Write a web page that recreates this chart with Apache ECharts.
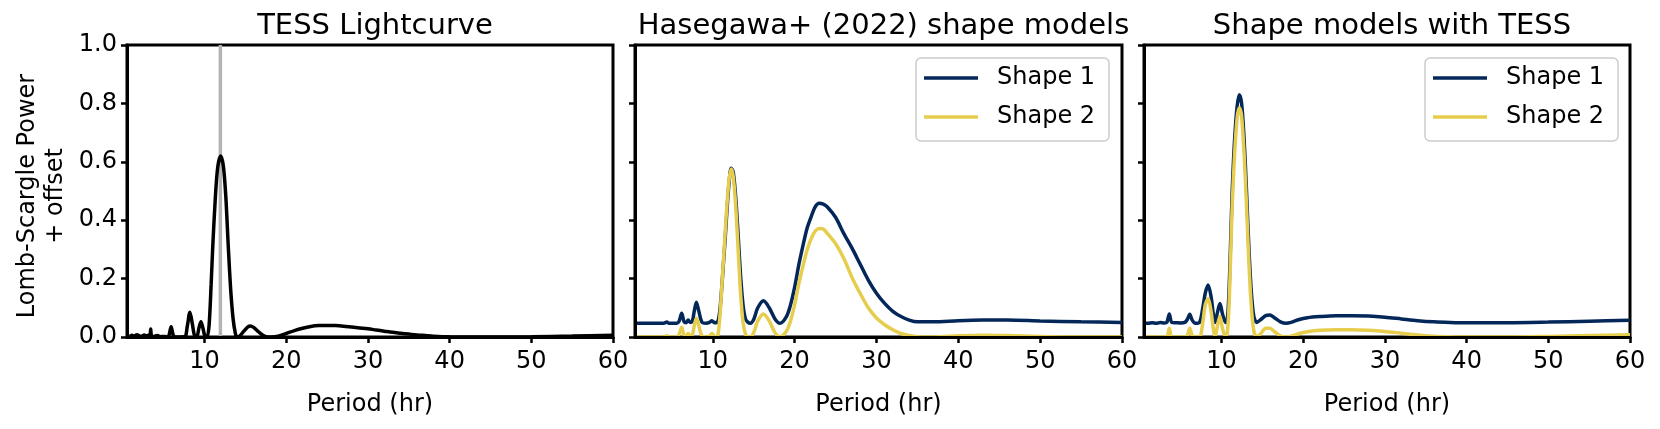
<!DOCTYPE html>
<html><head><meta charset="utf-8">
<script src="https://cdn.jsdelivr.net/npm/echarts@6/dist/echarts.min.js"></script>
<style>html,body{margin:0;padding:0;background:#fff}#c{width:1660px;height:429px}</style>
</head><body><div id="c"></div><script>
// ---- data ----
const titles = ['TESS Lightcurve', 'Hasegawa+ (2022) shape models', 'Shape models with TESS'];
const seriesNames = ['Shape 1', 'Shape 2'];
const xTicks = [10, 20, 30, 40, 50, 60];
const yTicks = [0, 0.2, 0.4, 0.6, 0.8, 1.0];
const tessRotPeriod = 11.93;

// Panel 1: TESS lightcurve periodogram
const tessX = [0.5,0.8,1.1,1.4,1.7,2.0,2.3,2.6,2.9,3.1,
  3.3,3.4,3.5,3.8,4.2,4.6,5.0,5.3,5.6,5.9,
  6.2,6.6,7.0,7.3,7.6,7.9,8.2,8.5,8.8,9.05,
  9.3,9.55,9.8,10.05,10.3,10.55,10.8,11.0,11.3,11.6,
  11.97,12.3,12.6,12.9,13.2,13.5,13.75,13.95,14.3,14.8,
  15.3,15.6,16.0,16.6,17.2,17.8,18.2,19,20,21,
  22,23,24,25,26,27,28,29,30,31,
  32,33,34,35,36,37,38,40,45,50,
  55,60];
const tessY = [0.004,0.002,0.006,0.003,0.008,0.004,0.002,0.007,0.003,0.006,
  0.004,0.027,0.004,0.002,0.005,0.001,0.002,0.001,0.003,0.035,
  0.003,0,0,0.001,0,0.04,0.085,0.045,0.003,0.002,
  0.03,0.052,0.03,0.002,0,0.04,0.18,0.31,0.47,0.58,
  0.62,0.585,0.48,0.31,0.16,0.06,0.015,0,0.003,0.02,
  0.035,0.038,0.033,0.018,0.005,0,0,0.003,0.012,0.022,
  0.03,0.036,0.039,0.0395,0.039,0.037,0.034,0.031,0.028,0.024,
  0.02,0.016,0.013,0.01,0.007,0.005,0.003,0.001,0,0.001,
  0.003,0.006];

// Panel 2: Hasegawa+ (2022) shape models
const haseX = [0.5,2,4,4.4,4.6,5.6,5.9,6.2,6.5,6.75,
  7.0,7.25,7.5,7.75,8.0,8.3,8.7,9.2,9.6,9.9,
  10.2,10.5,10.7,10.9,11.1,11.3,11.5,11.75,12.0,12.25,
  12.5,12.8,13.1,13.4,13.7,14.0,14.3,14.6,15.0,15.5,
  16.2,16.9,17.6,18.2,19,19.5,20,20.5,21,21.5,
  22,22.5,23,23.5,24,25,26,27,28,29,
  30,31,32,33,34,35,37,40,43,46,
  50,55,60];
const haseShape1 = [0.047,0.047,0.047,0.051,0.047,0.047,0.055,0.081,0.052,0.049,
  0.058,0.05,0.053,0.09,0.119,0.088,0.05,0.047,0.05,0.056,
  0.049,0.05,0.06,0.1,0.17,0.25,0.33,0.44,0.53,0.578,
  0.565,0.48,0.35,0.21,0.11,0.062,0.05,0.047,0.06,0.1,
  0.124,0.1,0.062,0.047,0.07,0.11,0.17,0.245,0.31,0.37,
  0.41,0.445,0.458,0.455,0.445,0.41,0.355,0.305,0.25,0.195,
  0.15,0.115,0.088,0.07,0.058,0.052,0.052,0.056,0.058,0.058,
  0.055,0.052,0.05];
const haseShape2 = [0,0,0,0.004,0,0,0.01,0.033,0.005,0.002,
  0.012,0.002,0.006,0.04,0.064,0.038,0.003,0,0.003,0.012,
  0.002,0,0.02,0.08,0.17,0.26,0.35,0.46,0.54,0.575,
  0.55,0.45,0.3,0.15,0.05,0.01,0,0,0.015,0.055,
  0.079,0.055,0.015,0,0.02,0.055,0.11,0.18,0.24,0.295,
  0.335,0.362,0.372,0.37,0.355,0.32,0.27,0.205,0.15,0.1,
  0.065,0.042,0.025,0.012,0.005,0.001,0,0.004,0.006,0.005,
  0.002,0,0];

// Panel 3: shape models with TESS
const comboX = [0.5,1,1.5,2,2.5,3,3.3,3.6,3.9,4.5,
  5,5.5,5.8,6.1,6.4,6.8,7.3,7.7,8.0,8.35,
  8.7,9.0,9.2,9.5,9.8,10.1,10.5,10.7,10.9,11.1,
  11.3,11.6,11.9,12.17,12.45,12.75,13.05,13.35,13.65,13.95,
  14.3,14.8,15.4,15.9,16.5,17.2,17.9,18.5,19.5,20.5,
  22,24,26,28,30,32,34,36,38,40,
  45,50,55,60];
const comboShape1 = [0.047,0.047,0.049,0.047,0.05,0.048,0.05,0.079,0.05,0.049,
  0.048,0.05,0.06,0.078,0.058,0.047,0.05,0.1,0.15,0.178,
  0.14,0.075,0.05,0.085,0.115,0.08,0.05,0.06,0.15,0.32,
  0.5,0.68,0.79,0.83,0.8,0.68,0.5,0.3,0.15,0.07,
  0.05,0.06,0.073,0.075,0.065,0.052,0.047,0.05,0.06,0.066,
  0.07,0.073,0.073,0.072,0.068,0.062,0.056,0.052,0.05,0.049,
  0.049,0.051,0.054,0.057];
const comboShape2 = [0,0,0,0,0,0,0,0.03,0,0,
  0,0,0.005,0.03,0.005,0,0,0.05,0.11,0.132,
  0.09,0.025,0,0.04,0.07,0.03,0,0.015,0.1,0.27,
  0.45,0.63,0.75,0.785,0.755,0.63,0.45,0.25,0.1,0.02,
  0,0.012,0.03,0.03,0.018,0.004,0,0.003,0.012,0.018,
  0.023,0.025,0.025,0.023,0.019,0.013,0.007,0.003,0.001,0,
  0,0.002,0.005,0.008];

// ---- chart ----
const FONT = 'DejaVu Sans';
const NAVY = '#04275a';
const YELLOW = '#e6cd4e';
const LW = 3.5;
const zip = (xs, ys) => xs.map((x, i) => [x, ys[i]]);

const gridBoxes = [
  {left: 127, top: 45, width: 486, height: 292},
  {left: 635, top: 45, width: 487, height: 292},
  {left: 1144, top: 45, width: 486, height: 292}
];

function xAx(i) {
  return {
    type: 'value', gridIndex: i, min: 0.5, max: 60, z: 5,
    axisLine: {show: true, onZero: false, lineStyle: {color: '#000', width: 3}},
    axisTick: {show: true, length: 6, customValues: xTicks, lineStyle: {color: '#000', width: 2.5}},
    axisLabel: {show: true, customValues: xTicks, color: '#000', fontFamily: FONT, fontSize: 24, margin: 13},
    splitLine: {show: false},
    name: 'Period (hr)', nameLocation: 'middle', nameGap: 56,
    nameTextStyle: {color: '#000', fontFamily: FONT, fontSize: 24}
  };
}
function yAx(i) {
  const o = {
    type: 'value', gridIndex: i, min: 0, max: 1, interval: 0.2, z: 5,
    axisLine: {show: true, onZero: false, lineStyle: {color: '#000', width: 3}},
    axisTick: {show: true, length: 6, lineStyle: {color: '#000', width: 2.5}},
    axisLabel: {show: i === 0, color: '#000', fontFamily: FONT, fontSize: 24, margin: 10,
      formatter: v => v.toFixed(1)},
    splitLine: {show: false}
  };
  if (i === 0) {
    o.name = 'Lomb-Scargle Power\n+ offset';
    o.nameLocation = 'middle';
    o.nameRotate = 90;
    o.nameGap = 57;
    o.nameTextStyle = {color: '#000', fontFamily: FONT, fontSize: 24, lineHeight: 28, align: 'center',
      padding: [0, 10, 0, 0]};
  }
  return o;
}
function lineSeries(name, xi, xs, ys, color, z) {
  return {
    type: 'line', name: name, xAxisIndex: xi, yAxisIndex: xi,
    data: zip(xs, ys), showSymbol: false, symbol: 'none', smooth: 0.3,
    lineStyle: {color: color, width: LW}, itemStyle: {color: color}, z: z,
    emphasis: {disabled: true}
  };
}
function legendAt(left) {
  return {
    data: seriesNames, orient: 'vertical', left: left, top: 58,
    padding: [8, 14, 12, 8], itemGap: 15, itemWidth: 54, itemHeight: 3.5, icon: 'rect',
    borderColor: '#cccccc', borderWidth: 1.5, borderRadius: 5, backgroundColor: 'rgba(255,255,255,0.85)',
    textStyle: {color: '#000', fontFamily: FONT, fontSize: 24, padding: [0, 0, 0, 14]},
    selectedMode: false
  };
}

const option = {
  animation: false,
  backgroundColor: '#fff',
  title: titles.map((t, i) => ({
    text: t, left: gridBoxes[i].left + gridBoxes[i].width / 2, top: 7, textAlign: 'center',
    textStyle: {color: '#000', fontFamily: FONT, fontSize: 29, fontWeight: 'normal'}
  })),
  grid: gridBoxes.map(g => Object.assign({show: true, borderColor: '#000', borderWidth: 3, backgroundColor: 'transparent'}, g)),
  xAxis: [0, 1, 2].map(xAx),
  yAxis: [0, 1, 2].map(yAx),
  legend: [legendAt(916), legendAt(1425)],
  series: [
    {type: 'line', name: 'rotation period', xAxisIndex: 0, yAxisIndex: 0,
      data: [[tessRotPeriod, 0], [tessRotPeriod, 1]], showSymbol: false, symbol: 'none',
      lineStyle: {color: '#b3b3b3', width: 3.5}, z: 1},
    lineSeries('TESS', 0, tessX, tessY, '#000', 2),
    lineSeries(seriesNames[0], 1, haseX, haseShape1, NAVY, 2),
    lineSeries(seriesNames[1], 1, haseX, haseShape2, YELLOW, 3),
    lineSeries(seriesNames[0], 2, comboX, comboShape1, NAVY, 2),
    lineSeries(seriesNames[1], 2, comboX, comboShape2, YELLOW, 3)
  ]
};
const chart = echarts.init(document.getElementById('c'), null, {renderer: 'canvas'});
chart.setOption(option);
</script></body></html>
